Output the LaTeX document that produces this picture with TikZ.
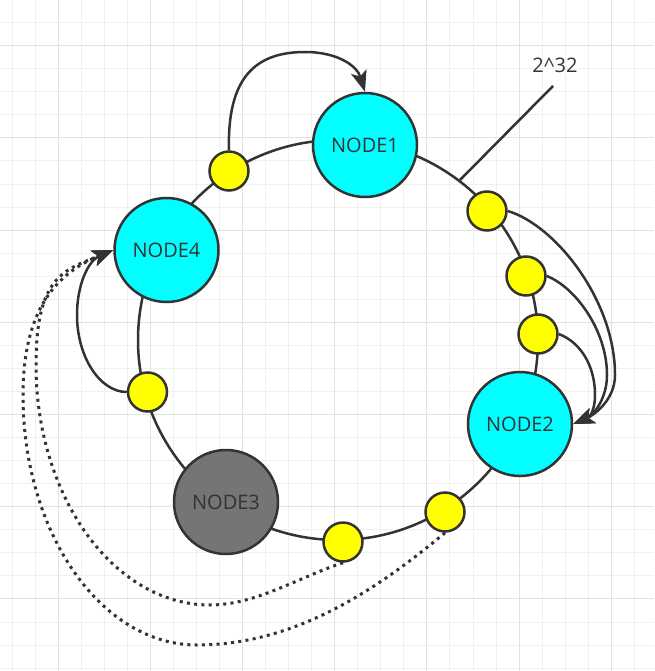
\documentclass[tikz,border=0pt]{standalone}
\usepackage{fontspec}
\setmainfont{Open Sans}
\usetikzlibrary{arrows.meta}
\definecolor{gridminor}{HTML}{F0F0F0}
\definecolor{gridmajor}{HTML}{E2E2E2}
\definecolor{linec}{HTML}{333333}
\definecolor{cyanfill}{HTML}{00FFFF}
\definecolor{yelfill}{HTML}{FFFF00}
\definecolor{grayfill}{HTML}{757575}
\tikzset{
  ring/.style={draw=linec, line width=2.5pt},
  hashnode/.style={circle, draw=linec, line width=2.5pt, minimum size=104pt, inner sep=0pt,
    fill=cyanfill, text=linec, font=\fontsize{20}{22}\selectfont},
  vnode/.style={circle, draw=linec, line width=2.5pt, minimum size=39pt, inner sep=0pt, fill=yelfill},
  hop/.style={draw=linec, line width=2.5pt, -{Stealth[length=21pt,width=16pt,inset=5pt]}},
  jump/.style={hop, line width=3pt, dash pattern=on 3pt off 4.3pt},
}
\begin{document}
\begin{tikzpicture}[x=1pt, y=-1pt]
  \useasboundingbox (0,0) rectangle (654,671);
  \fill[white] (0,0) rectangle (654,671);

  % grid
  \foreach \i in {0,...,28}
    \draw[gridminor, line width=1pt] ({12+23.05*\i},0) -- ({12+23.05*\i},671);
  \foreach \j in {0,...,29}
    \draw[gridminor, line width=1pt] (0,{-0.35+23.05*\j}) -- (654,{-0.35+23.05*\j});
  \foreach \i in {2,6,...,26} {
    \draw[gridmajor, line width=1pt] ({12+23.05*\i},0) -- ({12+23.05*\i},671);
    \draw[gridmajor, line width=1pt] (0,{-0.35+23.05*\i}) -- (654,{-0.35+23.05*\i});
  }

  % hash ring
  \coordinate (ctr) at (338,340);
  \draw[ring] (ctr) circle[radius=200pt];
  \coordinate (mark) at (460,180);
  \coordinate (tick) at (553,86);
  \draw[ring] (mark) -- (tick);
  \node[text=linec, font=\fontsize{20}{22}\selectfont] (lbl) at (555,65) {2\textasciicircum32};

  % servers
  \node[hashnode] (n1) at (365,145) {\raisebox{-2pt}{NODE1}};
  \node[hashnode] (n2) at (520,424) {\raisebox{-2pt}{NODE2}};
  \node[hashnode, fill=grayfill] (n3) at (226,502) {\raisebox{-2pt}{NODE3}};
  \node[hashnode] (n4) at (166.5,250) {\raisebox{-2pt}{NODE4}};

  % keys
  \node[vnode] (ya) at (229,171) {};
  \node[vnode] (yb) at (487,211) {};
  \node[vnode] (yc) at (526,276) {};
  \node[vnode] (yd) at (538,334) {};
  \node[vnode] (ye) at (147.5,392) {};
  \node[vnode] (yf) at (343,542) {};
  \node[vnode] (yg) at (445,512) {};

  % clockwise lookup
  \draw[hop] (ya.north) .. controls (227,78) and (255,52) .. (305,52)
    .. controls (338,52) and (357,66) .. (n1.north);
  \draw[hop] (yb.east) .. controls (555,225) and (615,300) .. (615,375)
    .. controls (615,400) and (594,415) .. (n2.east);
  \draw[hop] (yc.east) .. controls (575,287) and (607,330) .. (607,375)
    .. controls (607,398) and (594,415) .. (n2.east);
  \draw[hop] (yd.east) .. controls (580,342) and (595,365) .. (595,395)
    .. controls (595,410) and (590,417) .. (n2.east);
  \draw[hop] (ye.west) .. controls (100,392) and (77,357) .. (77,315)
    .. controls (77,285) and (88,261) .. (n4.west);

  % NODE3 removed: keys move on
  \draw[jump] (yf.south) .. controls (299,577) and (256,605) .. (210,605)
    .. controls (114,605) and (36,497) .. (36,365)
    .. controls (36,275) and (65,270) .. (n4.west);
  \draw[jump] (yg.south) .. controls (380,587) and (297,645) .. (197,645)
    .. controls (101,645) and (23,533) .. (23,395)
    .. controls (23,300) and (65,270) .. (n4.west);
\end{tikzpicture}
\end{document}
